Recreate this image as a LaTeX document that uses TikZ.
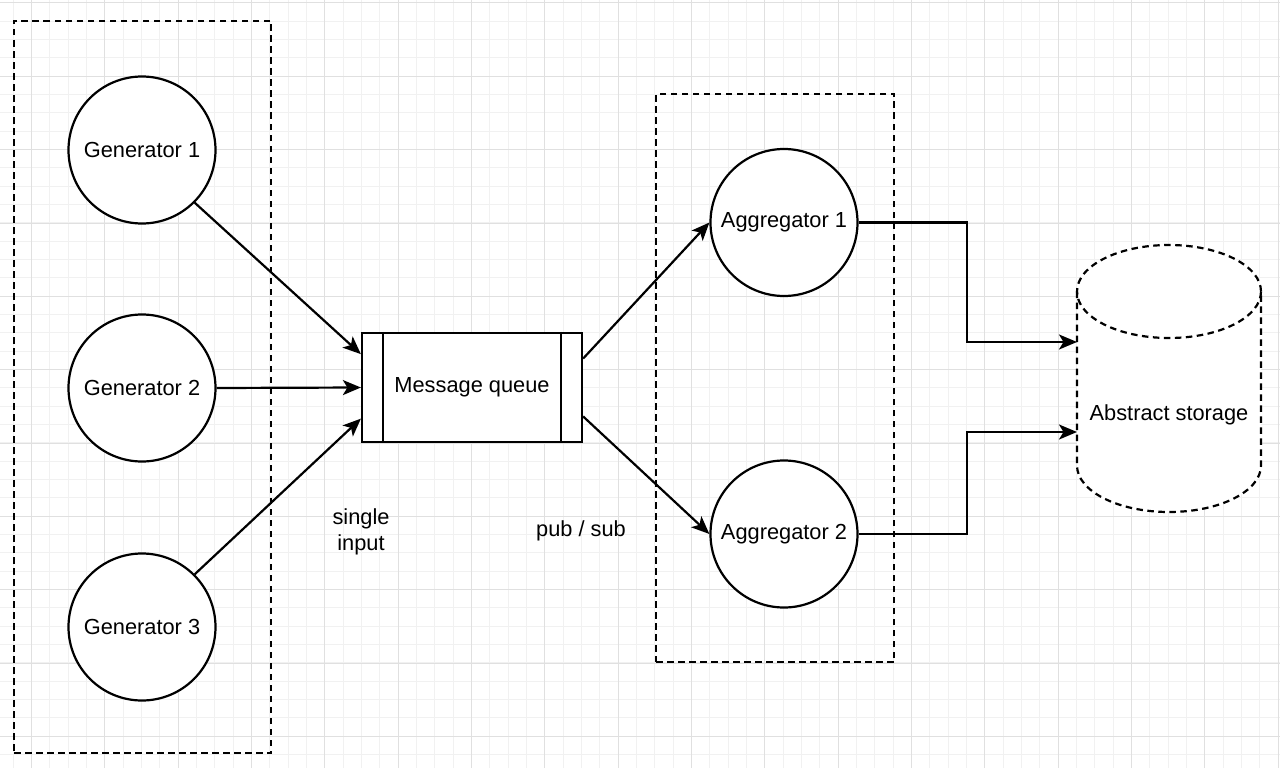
\documentclass[tikz,border=0pt]{standalone}
\usepackage{fontspec}
\setmainfont{Liberation Sans}
\usetikzlibrary{arrows.meta,calc}
\definecolor{minorgrid}{HTML}{F1F1F1}
\definecolor{majorgrid}{HTML}{E0E0E0}
\begin{document}
\begin{tikzpicture}[x=1pt,y=-1pt,
  txt/.style={font=\fontsize{21.8}{26}\selectfont},
  circ/.style={circle,draw,line width=2.2pt,minimum size=147pt,inner sep=0pt,fill=white,txt},
  grp/.style={draw,dash pattern=on 6.5pt off 4.5pt,line width=2.2pt,inner sep=0pt},
  arr/.style={line width=2.2pt,-{Stealth[length=18pt,width=15pt,inset=4.5pt]}},
  plain/.style={line width=2.2pt}]
\useasboundingbox (0,0) rectangle (1280,768);
\fill[white] (0,0) rectangle (1280,768);
% grid
\foreach \i in {0,...,70} {\draw[minorgrid,line width=1pt] ({13.17+18.333*\i},0) -- ++(0,768);}
\foreach \i in {0,...,42} {\draw[minorgrid,line width=1pt] (0,{3+18.333*\i}) -- ++(1280,0);}
\foreach \i in {0,...,17} {\draw[majorgrid,line width=1pt] ({31.5+73.333*\i},0) -- ++(0,768);}
\foreach \i in {0,...,10} {\draw[majorgrid,line width=1pt] (0,{3+73.333*\i}) -- ++(1280,0);}
% groups
\node[grp,minimum width=257pt,minimum height=732pt] (grp1) at (142.5,387) {};
\node[grp,minimum width=238pt,minimum height=568pt] (grp2) at (775,378) {};
% generators
\node[circ] (g1) at (142,150) {Generator 1};
\node[circ] (g2) at (142,388) {Generator 2};
\node[circ] (g3) at (142,627) {Generator 3};
% message queue
\node[draw,line width=2.2pt,fill=white,minimum width=220pt,minimum height=109pt,inner sep=0pt,txt] (mq) at (472,387.5) {Message queue};
\draw[plain] ([xshift=22pt]mq.north west) -- ([xshift=22pt]mq.south west);
\draw[plain] ([xshift=-22pt]mq.north east) -- ([xshift=-22pt]mq.south east);
% aggregators
\node[circ] (a1) at (784,222.5) {Aggregator 1};
\node[circ] (a2) at (784,534) {Aggregator 2};
% storage cylinder
\fill[white] (1077,291.5) -- (1077,465.5) arc[start angle=180,end angle=360,x radius=92pt,y radius=46.5pt] -- (1261,291.5) arc[start angle=0,end angle=180,x radius=92pt,y radius=46.5pt];
\draw[grp] (1077,291.5) -- (1077,465.5) arc[start angle=180,end angle=360,x radius=92pt,y radius=46.5pt] -- (1261,291.5);
\draw[grp] (1169,291.5) ellipse [x radius=92pt,y radius=46.5pt];
\node[txt] (st) at (1169,415) {Abstract storage};
\coordinate (in1) at (1077,342);
\coordinate (in2) at (1077,432);
% labels
\node[txt,align=center] (lsi) at (361,532) {single\\input};
\node[txt] (lps) at (581,531) {pub / sub};
% connectors
\draw[arr] (g1.-45) -- ($(mq.north west)!0.2!(mq.south west)$);
\draw[arr] (g2.east) -- (mq.west);
\draw[arr] (g3.45) -- ($(mq.north west)!0.78!(mq.south west)$);
\draw[arr] ($(mq.north east)!0.24!(mq.south east)$) -- (a1.west);
\draw[arr] ($(mq.north east)!0.76!(mq.south east)$) -- (a2.west);
\draw[arr] (a1.east) -| ($(in1)+(-110,0)$) -- (in1);
\draw[arr] (a2.east) -| ($(in2)+(-110,0)$) -- (in2);
\end{tikzpicture}
\end{document}
